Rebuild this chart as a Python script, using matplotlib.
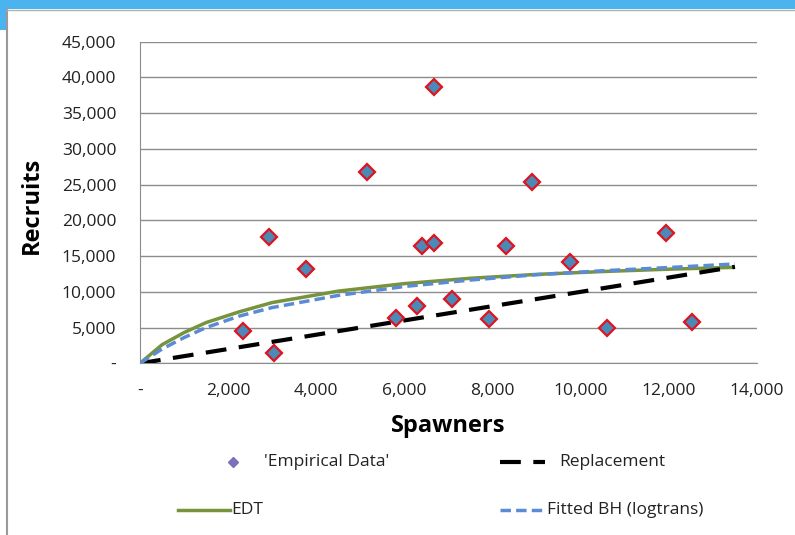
import matplotlib
matplotlib.use("Agg")
import matplotlib.pyplot as plt
from matplotlib.lines import Line2D
from matplotlib.patches import Rectangle
from matplotlib.ticker import FuncFormatter

plt.rcParams['font.family'] = ['Open Sans', 'DejaVu Sans']

# ---- data ----
spawners = [2330, 3050, 2920, 3760, 5150, 6680, 6390, 6680, 5810, 6290,
            7090, 7920, 8300, 8890, 9760, 10600, 11930, 12520]
recruits = [4520, 1480, 17710, 13240, 26810, 38620, 16450, 16790, 6300, 8020,
            9040, 6240, 16450, 25330, 14130, 4980, 18190, 5820]

curve_s = [0, 500, 1000, 1500, 2250, 3000, 4500, 6000, 7500, 9000, 10500, 12000, 13500]
edt_r = [0, 2600, 4300, 5700, 7200, 8500, 10100, 11150, 11900, 12440, 12840, 13170, 13430]
bh_r = [0, 2000, 3600, 5000, 6600, 7800, 9500, 10750, 11650, 12400, 12950, 13400, 13900]
repl_s = [0, 13500]
repl_r = [0, 13500]

x_ticks = [0, 2000, 4000, 6000, 8000, 10000, 12000, 14000]
y_ticks = [0, 5000, 10000, 15000, 20000, 25000, 30000, 35000, 40000, 45000]

W, H = 795, 535
fig = plt.figure(figsize=(W / 100, H / 100), dpi=100)
fig.patch.set_facecolor('white')

# frame decorations
blue = '#4BB4EE'
fig.patches.append(Rectangle((0, 1 - 9 / H), 1, 9 / H, transform=fig.transFigure,
                             facecolor=blue, edgecolor='none', zorder=0))
fig.patches.append(Rectangle((0, 1 - 30 / H), 7 / W, 30 / H, transform=fig.transFigure,
                             facecolor=blue, edgecolor='none', zorder=0))
fig.lines.append(Line2D([7 / W, 7 / W], [0, 1 - 9 / H], transform=fig.transFigure,
                        color='#9a9a9a', lw=1.5))
fig.lines.append(Line2D([7 / W, 1], [1 - 10 / H, 1 - 10 / H], transform=fig.transFigure,
                        color='#b0b0b0', lw=1.0))

ax = fig.add_axes([140 / W, 1 - 363.3 / H, 617 / W, (363.3 - 41.7) / H])
ax.set_xlim(0, 14000)
ax.set_ylim(0, 45000)

ax.set_yticks(y_ticks)
ax.set_xticks(x_ticks)
fmt = FuncFormatter(lambda v, p: '-' if v == 0 else f'{int(v):,}')
ax.xaxis.set_major_formatter(fmt)
ax.yaxis.set_major_formatter(fmt)
ax.tick_params(axis='both', length=0, labelsize=12.5, colors='#222222')
ax.tick_params(axis='y', pad=17)
ax.tick_params(axis='x', pad=14)

ax.grid(axis='y', color='#8c8c8c', lw=1.0)
ax.set_axisbelow(True)
for s in ['top', 'right']:
    ax.spines[s].set_visible(False)
ax.spines['left'].set_color('#8c8c8c')
ax.spines['bottom'].set_color('#8c8c8c')

ax.plot(curve_s, edt_r, color='#77933C', lw=2.5, zorder=3, solid_capstyle='butt')
ax.plot(curve_s, bh_r, color='#5B8BD6', lw=2.5, ls=(0, (3, 1.5)), zorder=4)
ax.plot(repl_s, repl_r, color='black', lw=3, ls=(0, (5, 3)), zorder=3)
ax.plot(spawners, recruits, ls='none', marker='D', ms=8.5, mfc='#4A89B8',
        mec='#E0141E', mew=1.6, zorder=5)

ax.set_ylabel('Recruits', fontsize=17, fontweight='bold')
ax.set_xlabel('Spawners', fontsize=17, fontweight='bold', labelpad=11)
ax.yaxis.set_label_coords((44 - 140) / 617, 0.49)

# legend (manual placement)
def fx(px):
    return px / W

def fy(py):
    return 1 - py / H

tf = fig.transFigure
lfs = 12.5
fig.lines.append(Line2D([fx(233)], [fy(462)], transform=tf, marker='D', ms=5.5,
                        mfc='#7E70B8', mec='#7E70B8', ls='none'))
fig.text(fx(264), fy(462), "'Empirical Data'", fontsize=lfs, va='center', ha='left', color='#222222')
fig.lines.append(Line2D([fx(500), fx(545)], [fy(462), fy(462)], transform=tf,
                        color='black', lw=3, ls=(0, (5, 3))))
fig.text(fx(559), fy(462), 'Replacement', fontsize=lfs, va='center', ha='left', color='#222222')
fig.lines.append(Line2D([fx(178), fx(230)], [fy(510), fy(510)], transform=tf,
                        color='#77933C', lw=2.5))
fig.text(fx(231), fy(510), 'EDT', fontsize=lfs, va='center', ha='left', color='#222222')
fig.lines.append(Line2D([fx(500), fx(545)], [fy(510), fy(510)], transform=tf,
                        color='#5B8BD6', lw=2.5, ls=(0, (3, 1.5))))
fig.text(fx(547), fy(510), 'Fitted BH (logtrans)', fontsize=lfs, va='center', ha='left', color='#222222')

fig.savefig('out.png', dpi=100)
